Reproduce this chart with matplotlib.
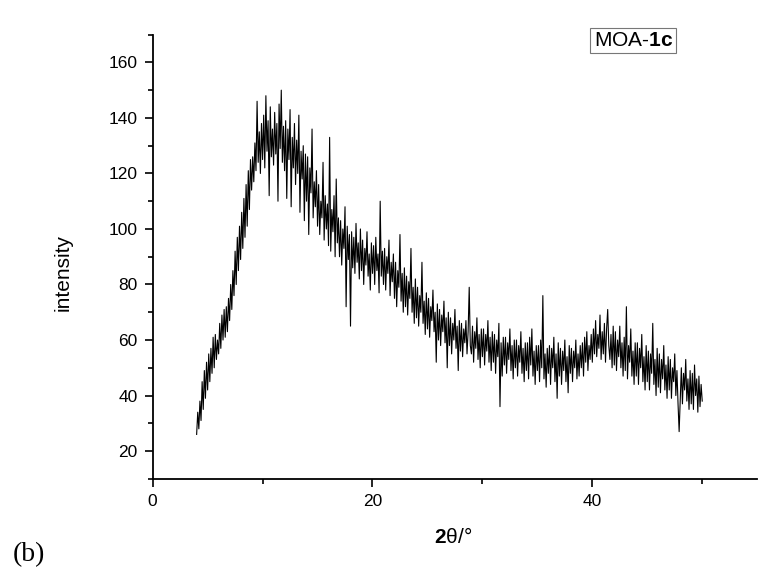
import numpy as np
import matplotlib
matplotlib.use("Agg")
import matplotlib.pyplot as plt
from matplotlib.ticker import MultipleLocator

plt.rcParams['font.family'] = ['Liberation Sans', 'DejaVu Sans']
plt.rcParams['mathtext.fontset'] = 'custom'
plt.rcParams['mathtext.rm'] = 'Liberation Sans'
plt.rcParams['mathtext.bf'] = 'Liberation Sans:bold'

# 2theta from 4.0 to 50.0 in steps of 0.1 (one row per degree)
two_theta = np.round(np.arange(40, 501) / 10.0, 1)

intensity = [
    26, 34, 28, 38, 31, 45, 35, 49, 39, 52,            # 4
    42, 55, 45, 57, 48, 61, 50, 62, 53, 60,            # 5
    55, 66, 57, 69, 60, 71, 61, 72, 63, 75,            # 6
    67, 80, 71, 85, 76, 92, 80, 97, 85, 101,           # 7
    89, 106, 93, 111, 97, 116, 101, 121, 107, 125,     # 8
    114, 126, 117, 131, 121, 146, 124, 135, 120, 138,  # 9
    125, 141, 122, 148, 128, 139, 112, 144, 126, 136,  # 10
    123, 142, 127, 138, 110, 145, 129, 150, 124, 137,  # 11
    121, 139, 111, 136, 125, 143, 108, 133, 122, 138,  # 12
    116, 132, 120, 141, 106, 128, 118, 130, 103, 127,  # 13
    110, 126, 98, 122, 113, 136, 104, 117, 108, 121,   # 14
    101, 116, 98, 110, 104, 124, 96, 112, 100, 109,    # 15
    94, 133, 92, 107, 99, 112, 90, 118, 95, 104,       # 16
    90, 103, 87, 100, 93, 108, 72, 101, 89, 98,        # 17
    65, 99, 86, 97, 84, 102, 88, 95, 82, 100,          # 18
    85, 96, 80, 93, 87, 99, 83, 91, 78, 95,            # 19
    84, 94, 80, 97, 85, 91, 77, 110, 83, 92,           # 20
    80, 93, 78, 90, 84, 96, 76, 88, 81, 91,            # 21
    75, 88, 72, 85, 79, 98, 74, 84, 70, 86,            # 22
    72, 83, 69, 81, 75, 93, 70, 79, 66, 82,            # 23
    68, 79, 65, 76, 70, 88, 66, 74, 62, 77,            # 24
    64, 75, 61, 72, 67, 78, 63, 70, 52, 73,            # 25
    60, 71, 58, 69, 63, 74, 59, 68, 50, 70,            # 26
    58, 68, 55, 66, 60, 71, 57, 65, 49, 67,            # 27
    56, 66, 54, 64, 59, 67, 55, 63, 79, 58,            # 28
    55, 65, 52, 63, 57, 68, 53, 62, 50, 64,            # 29
    54, 64, 51, 62, 56, 67, 52, 61, 49, 63,            # 30
    52, 62, 48, 60, 54, 66, 36, 59, 47, 61,            # 31
    51, 61, 48, 59, 53, 64, 49, 58, 46, 60,            # 32
    50, 60, 47, 58, 52, 63, 48, 57, 45, 59,            # 33
    49, 59, 46, 61, 51, 64, 47, 56, 44, 58,            # 34
    49, 58, 45, 60, 50, 76, 46, 55, 43, 57,            # 35
    48, 58, 44, 57, 50, 61, 45, 55, 39, 59,            # 36
    47, 57, 44, 56, 49, 60, 45, 54, 41, 58,            # 37
    48, 57, 45, 56, 50, 60, 46, 55, 47, 58,            # 38
    50, 59, 47, 61, 52, 63, 49, 58, 53, 62,            # 39
    52, 64, 55, 67, 54, 62, 57, 69, 53, 63,            # 40
    55, 66, 52, 64, 71, 58, 53, 62, 50, 65,            # 41
    51, 63, 49, 60, 54, 65, 50, 59, 47, 61,            # 42
    49, 72, 46, 58, 52, 64, 47, 56, 44, 59,            # 43
    47, 59, 44, 57, 50, 62, 45, 54, 42, 58,            # 44
    45, 56, 42, 55, 48, 66, 44, 53, 40, 57,            # 45
    43, 55, 41, 53, 46, 58, 42, 51, 39, 54,            # 46
    42, 53, 39, 50, 45, 55, 40, 49, 37, 27,            # 47
    39, 50, 37, 48, 42, 53, 38, 46, 35, 49,            # 48
    37, 48, 35, 51, 40, 46, 34, 47, 36, 44,            # 49
    38,                                                # 50
]

fig = plt.figure(figsize=(7.75, 5.68), dpi=100)
ax = fig.add_axes([0.197, 0.157, 0.78, 0.782])

ax.plot(two_theta, intensity, color="black", linewidth=0.8)

ax.set_xlim(0, 55)
ax.set_ylim(10, 170)
ax.xaxis.set_major_locator(MultipleLocator(20))
ax.xaxis.set_minor_locator(MultipleLocator(10))
ax.yaxis.set_minor_locator(MultipleLocator(10))
ax.set_yticks(range(20, 161, 20))

for side in ("top", "right"):
    ax.spines[side].set_visible(False)
for side in ("left", "bottom"):
    ax.spines[side].set_linewidth(1.3)

ax.tick_params(which="major", length=6, width=1.2, labelsize=12.5, pad=5)
ax.tick_params(which="minor", length=3.5, width=1.2)

fig.text(0.081, 0.521, "intensity", fontsize=15, rotation=90, ha="center", va="center")
fig.text(0.585, 0.044, r"$\mathbf{2}\mathrm{\theta}/°$", fontsize=15, ha="center", va="baseline")

fig.text(0.817, 0.929, r"MOA-$\mathbf{1c}$", fontsize=15, ha="center", va="center",
         bbox=dict(boxstyle="square,pad=0.15", facecolor="white", edgecolor="#777777", linewidth=0.8))

fig.text(0.017, 0.012, "(b)", fontsize=20, family="Liberation Serif", ha="left", va="baseline")

fig.savefig("out.png", dpi=100)
